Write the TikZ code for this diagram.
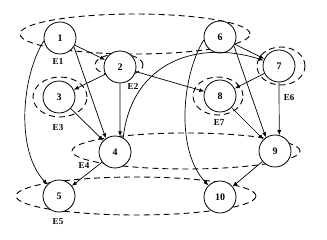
\documentclass[tikz,border=0pt]{standalone}
\usepackage{fontspec}
\setmainfont{Liberation Serif}
\usetikzlibrary{arrows.meta}
\begin{document}
\begin{tikzpicture}[x=1pt,y=-1pt,
  vtx/.style={circle,draw,fill=white,line width=0.8pt,minimum size=32pt,inner sep=0pt,font=\fontsize{10}{12}\selectfont\bfseries},
  hedge/.style={dash pattern=on 6pt off 4pt,line width=0.9pt},
  elabel/.style={font=\fontsize{9}{11}\selectfont\bfseries,inner sep=0pt},
  arr/.style={-{Latex[length=5pt,width=4pt]},line width=0.7pt}]
\useasboundingbox (0,0) rectangle (327,240);
% hyperedges
\draw[hedge] (135,34) ellipse [x radius=115pt, y radius=20pt];
\draw[hedge] (119,65) ellipse [x radius=24pt, y radius=11pt];
\draw[hedge] (60,97) ellipse [x radius=27pt, y radius=20pt];
\draw[hedge] (186,151) ellipse [x radius=114pt, y radius=18pt];
\draw[hedge] (136,196) ellipse [x radius=120pt, y radius=19pt];
\draw[hedge] (281,66) ellipse [x radius=24pt, y radius=19pt];
\draw[hedge] (218,96) ellipse [x radius=25pt, y radius=19pt];
% vertices
\node[vtx] (n1) at (60,38) {1};
\node[vtx] (n2) at (120,67) {2};
\node[vtx] (n3) at (59,97) {3};
\node[vtx] (n4) at (115,152) {4};
\node[vtx] (n5) at (59,196) {5};
\node[vtx] (n6) at (220,37) {6};
\node[vtx] (n7) at (279,66) {7};
\node[vtx] (n8) at (220,96) {8};
\node[vtx] (n9) at (275,151) {9};
\node[vtx] (n10) at (220,197) {10};
% labels
\node[elabel] (l1) at (58,62) {E1};
\node[elabel] (l2) at (133,87) {E2};
\node[elabel] (l3) at (58,128) {E3};
\node[elabel] (l4) at (84,166) {E4};
\node[elabel] (l5) at (58,222) {E5};
\node[elabel] (l6) at (289,98) {E6};
\node[elabel] (l7) at (219,123) {E7};
% arcs left
\draw[arr] (n1) -- (n2);
\draw[arr] (n1.-32) -- (n4.124);
\draw[arr] (n2) -- (n3);
\draw[arr] (n2.south) -- (n4.72);
\draw[arr] (n3) -- (n4);
\draw[arr] (n4) -- (n5);
\draw[arr] (n1.190) .. controls (22,75) and (15,150) .. (n5.135);
% cross arcs
\draw[arr] (n2) -- (n8);
\draw[arr] (n4.60) .. controls (132,60) and (200,40) .. (n7.160);
% arcs right
\draw[arr] (n6) -- (n7);
\draw[arr] (n6.-32) -- (n9.124);
\draw[arr] (n7) -- (n8);
\draw[arr] (n7.south) -- (n9.75);
\draw[arr] (n8) -- (n9);
\draw[arr] (n9) -- (n10);
\draw[arr] (n6.190) .. controls (182,75) and (175,150) .. (n10.135);
\end{tikzpicture}
\end{document}
